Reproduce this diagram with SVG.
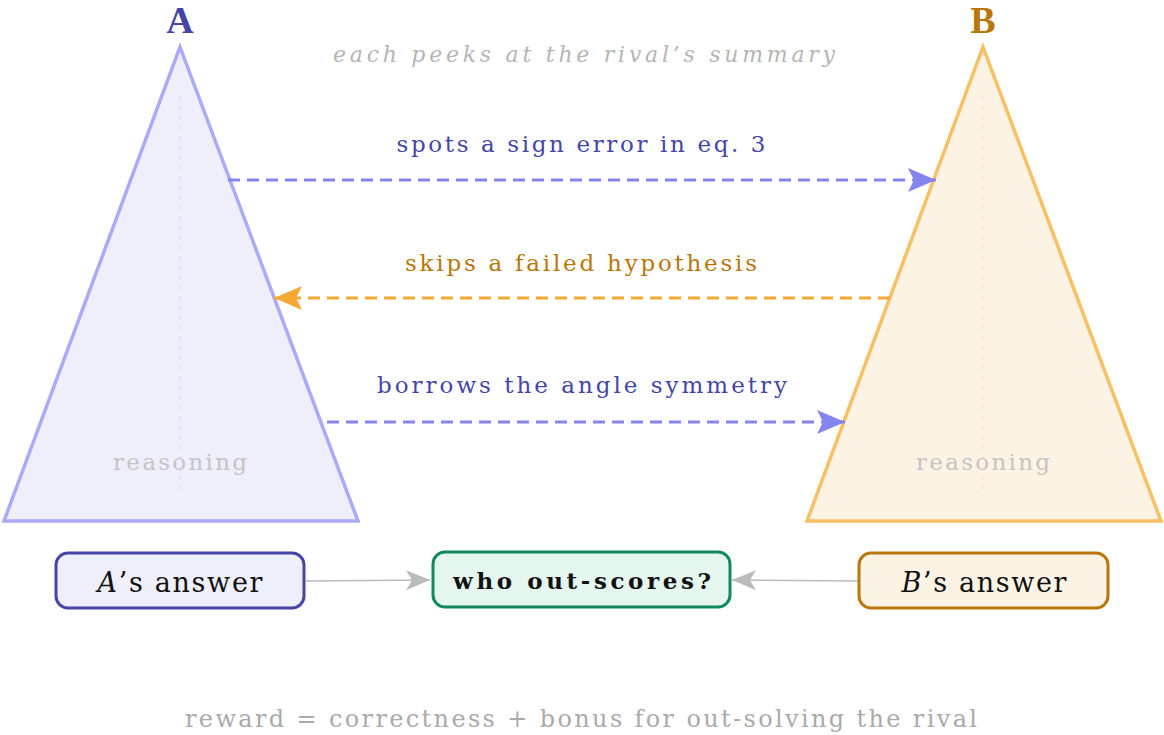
<svg xmlns="http://www.w3.org/2000/svg" width="1164" height="735" viewBox="0 0 1164 735">
<style>
.serif{font-family:"DejaVu Serif","Liberation Serif",serif}
.lbl{font-size:23px}
.gray{fill:#b5b5b5}
.blue{fill:#4545a8}
.orange{fill:#b87708}
.dash{stroke-width:3;stroke-dasharray:12 7;fill:none}
.box{stroke-width:3}
</style>
<defs>
<marker id="hb" markerUnits="userSpaceOnUse" markerWidth="30" markerHeight="26" refX="28" refY="12" orient="auto" viewBox="0 0 30 24">
<path d="M28,12 L0,0 L6,12 L0,24 Z" fill="#8585f0"/>
</marker>
<marker id="ho" markerUnits="userSpaceOnUse" markerWidth="30" markerHeight="26" refX="28" refY="12" orient="auto" viewBox="0 0 30 24">
<path d="M28,12 L0,0 L6,12 L0,24 Z" fill="#f5a832"/>
</marker>
<marker id="hg" markerUnits="userSpaceOnUse" markerWidth="26" markerHeight="22" refX="24" refY="10" orient="auto" viewBox="0 0 26 20">
<path d="M24,10 L0,0 L6,10 L0,20 Z" fill="#bbbbbb"/>
</marker>
</defs>
<rect width="1164" height="735" fill="#ffffff"/>

<g id="titleA"><text x="180" y="33" font-family="Liberation Serif, serif" font-size="38" font-weight="bold" text-anchor="middle" fill="#4545a8">A</text></g>
<g id="titleB"><text x="983" y="33" font-family="Liberation Serif, serif" font-size="38" font-weight="bold" text-anchor="middle" fill="#b87708">B</text></g>
<g id="caption"><text class="serif gray" x="584" y="62" font-size="22" font-style="italic" text-anchor="middle" textLength="502" lengthAdjust="spacing">each peeks at the rival’s summary</text></g>

<g id="triA">
<polygon points="180,47 358,521 4,521" fill="#efeffb" stroke="#aaaaf8" stroke-width="3.5" stroke-linejoin="miter"/>
<line x1="180" y1="97" x2="180" y2="488" stroke="#d6d6f6" stroke-width="1.5" stroke-dasharray="1.5 8.5" stroke-linecap="round"/>
<text class="serif lbl" x="180" y="470" text-anchor="middle" textLength="134" lengthAdjust="spacing" fill="#c4c4c4">reasoning</text>
</g>
<g id="triB">
<polygon points="983,47 1161,521 807,521" fill="#fdf3e5" stroke="#f8c062" stroke-width="3.5" stroke-linejoin="miter"/>
<line x1="983" y1="97" x2="983" y2="488" stroke="#fbe0bc" stroke-width="1.5" stroke-dasharray="1.5 8.5" stroke-linecap="round"/>
<text class="serif lbl" x="983" y="470" text-anchor="middle" textLength="134" lengthAdjust="spacing" fill="#c4c4c4">reasoning</text>
</g>

<g id="connectors">
<line class="dash" x1="228" y1="180" x2="936" y2="180" stroke="#8585f0" marker-end="url(#hb)"/>
<line class="dash" x1="890" y1="298" x2="274" y2="298" stroke="#f5a832" marker-end="url(#ho)"/>
<line class="dash" x1="327" y1="422" x2="845" y2="422" stroke="#8585f0" marker-end="url(#hb)"/>
<line x1="306" y1="581" x2="430" y2="580" stroke="#bbbbbb" stroke-width="1.6" marker-end="url(#hg)"/>
<line x1="858" y1="581" x2="732" y2="580" stroke="#bbbbbb" stroke-width="1.6" marker-end="url(#hg)"/>
</g>

<g id="labels">
<text class="serif lbl blue" x="581" y="152" text-anchor="middle" textLength="369" lengthAdjust="spacing">spots a sign error in eq. 3</text>
<text class="serif lbl orange" x="581" y="271" text-anchor="middle" textLength="352" lengthAdjust="spacing">skips a failed hypothesis</text>
<text class="serif lbl blue" x="582" y="393" text-anchor="middle" textLength="410" lengthAdjust="spacing">borrows the angle symmetry</text>
</g>

<g id="ansA">
<rect class="box" x="56" y="553" width="248" height="55" rx="12" fill="#efeffb" stroke="#4545a8"/>
<text class="serif" x="180" y="592" font-size="27" text-anchor="middle" fill="#111" textLength="165" lengthAdjust="spacing"><tspan font-style="italic">A</tspan>’s answer</text>
</g>
<g id="judge">
<rect class="box" x="433" y="552" width="297" height="55" rx="12" fill="#e5f6ef" stroke="#118860"/>
<text class="serif" x="582" y="589" font-size="23" font-weight="bold" text-anchor="middle" fill="#111" textLength="258" lengthAdjust="spacing">who out-scores?</text>
</g>
<g id="ansB">
<rect class="box" x="859" y="553" width="249" height="55" rx="12" fill="#fdf3e5" stroke="#b87708"/>
<text class="serif" x="984" y="592" font-size="27" text-anchor="middle" fill="#111" textLength="165" lengthAdjust="spacing"><tspan font-style="italic">B</tspan>’s answer</text>
</g>

<g id="footer"><text class="serif" x="581" y="727" font-size="24" text-anchor="middle" fill="#aaaaaa" textLength="792" lengthAdjust="spacing">reward = correctness + bonus for out-solving the rival</text></g>
</svg>
